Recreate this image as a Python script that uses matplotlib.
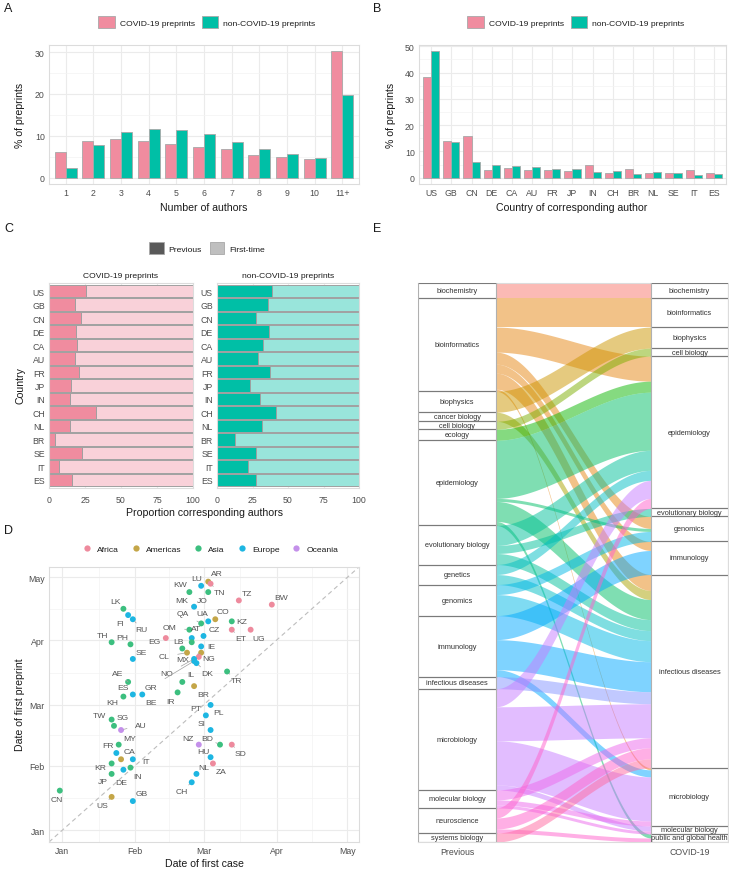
import matplotlib
matplotlib.use("Agg")
import matplotlib.pyplot as plt
import matplotlib.dates as mdates
import numpy as np
from datetime import datetime
from matplotlib.patches import Patch, Rectangle
from matplotlib.lines import Line2D

plt.rcParams['font.family'] = ['Liberation Sans', 'DejaVu Sans']

W, H = 729, 870

# ---------------- data ----------------
# A: number of authors (% of preprints)
author_bins = ['1', '2', '3', '4', '5', '6', '7', '8', '9', '10', '11+']
authors_covid = [6.1, 8.8, 9.3, 8.8, 8.1, 7.4, 6.8, 5.4, 5.0, 4.4, 30.2]
authors_noncovid = [2.3, 7.7, 11.0, 11.7, 11.5, 10.5, 8.6, 6.8, 5.6, 4.8, 19.7]

# B: country of corresponding author (% of preprints)
countries_b = ['US', 'GB', 'CN', 'DE', 'CA', 'AU', 'FR', 'JP', 'IN', 'CH', 'BR', 'NL', 'SE', 'IT', 'ES']
country_covid = [38.2, 14.0, 15.9, 2.9, 3.8, 2.9, 2.9, 2.5, 4.8, 1.6, 3.3, 1.6, 1.6, 2.8, 1.8]
country_noncovid = [48.1, 13.7, 6.1, 4.8, 4.6, 4.1, 3.4, 3.3, 2.3, 2.5, 1.4, 2.0, 1.9, 1.1, 1.4]

# C: proportion of corresponding authors with previous preprints
countries_c = ['US', 'GB', 'CN', 'DE', 'CA', 'AU', 'FR', 'JP', 'IN', 'CH', 'NL', 'BR', 'SE', 'IT', 'ES']
previous_covid = [26.0, 17.9, 21.9, 18.6, 19.1, 17.9, 20.5, 15.6, 14.4, 32.3, 14.9, 4.2, 22.6, 6.7, 16.3]
previous_noncovid = [38.6, 35.7, 27.6, 36.9, 32.2, 28.7, 37.4, 23.4, 30.4, 41.4, 31.8, 12.4, 27.3, 21.7, 27.6]

# D: date of first case vs date of first preprint
d_codes = ['CN', 'US', 'GB', 'KR', 'JP', 'DE', 'IN', 'IT', 'CA', 'FR', 'MY', 'AU', 'SG', 'TW', 'KH',
           'ES', 'BE', 'AE', 'SE', 'TH', 'PH', 'LK', 'FI', 'RU', 'EG', 'OM', 'KW', 'LU', 'AR', 'TN',
           'JO', 'MK', 'TZ', 'BW', 'QA', 'UA', 'CO', 'KZ', 'ET', 'UG', 'AT', 'CZ', 'LB', 'IQ', 'IE',
           'CL', 'MX', 'NG', 'NO', 'GR', 'DK', 'TR', 'IL', 'BR', 'IR', 'PL', 'PT', 'SI', 'NZ', 'BD',
           'SD', 'HU', 'ZA', 'NL', 'CH']
d_continent = ['Asia', 'Americas', 'Europe', 'Asia', 'Asia', 'Europe', 'Asia', 'Europe', 'Americas', 'Europe',
               'Asia', 'Oceania', 'Asia', 'Asia', 'Asia', 'Europe', 'Europe', 'Asia', 'Europe', 'Asia',
               'Asia', 'Asia', 'Europe', 'Europe', 'Africa', 'Asia', 'Asia', 'Europe', 'Americas', 'Africa',
               'Asia', 'Europe', 'Africa', 'Africa', 'Asia', 'Europe', 'Americas', 'Asia', 'Africa', 'Africa',
               'Europe', 'Europe', 'Asia', 'Asia', 'Europe', 'Americas', 'Americas', 'Africa', 'Europe', 'Europe',
               'Europe', 'Asia', 'Asia', 'Americas', 'Asia', 'Europe', 'Europe', 'Europe', 'Oceania', 'Asia',
               'Africa', 'Europe', 'Africa', 'Europe', 'Europe']
d_first_case = ['2019-12-31', '2020-01-22', '2020-01-31', '2020-01-22', '2020-01-22', '2020-01-27', '2020-01-30',
                '2020-01-31', '2020-01-26', '2020-01-24', '2020-01-25', '2020-01-26', '2020-01-23', '2020-01-22',
                '2020-01-27', '2020-01-31', '2020-02-04', '2020-01-29', '2020-01-31', '2020-01-22', '2020-01-30',
                '2020-01-27', '2020-01-29', '2020-01-31', '2020-02-14', '2020-02-24', '2020-02-24', '2020-02-29',
                '2020-03-03', '2020-03-04', '2020-03-03', '2020-02-26', '2020-03-16', '2020-03-30', '2020-02-29',
                '2020-03-03', '2020-03-06', '2020-03-13', '2020-03-13', '2020-03-21', '2020-02-25', '2020-03-01',
                '2020-02-21', '2020-02-25', '2020-02-29', '2020-02-23', '2020-02-29', '2020-02-28', '2020-02-26',
                '2020-02-26', '2020-02-27', '2020-03-11', '2020-02-21', '2020-02-26', '2020-02-19', '2020-03-04',
                '2020-03-02', '2020-03-04', '2020-02-28', '2020-03-08', '2020-03-13', '2020-03-04', '2020-03-05',
                '2020-02-27', '2020-02-25']
d_first_preprint = ['2020-01-20', '2020-01-17', '2020-01-15', '2020-02-02', '2020-01-28', '2020-01-30', '2020-01-31',
                    '2020-02-04', '2020-02-04', '2020-02-07', '2020-02-11', '2020-02-18', '2020-02-20', '2020-02-23',
                    '2020-03-05', '2020-03-06', '2020-03-06', '2020-03-12', '2020-03-23', '2020-03-31', '2020-03-30',
                    '2020-04-16', '2020-04-13', '2020-04-11', '2020-04-02', '2020-04-06', '2020-04-24', '2020-04-27',
                    '2020-04-29', '2020-04-28', '2020-04-24', '2020-04-17', '2020-04-20', '2020-04-18', '2020-04-09',
                    '2020-04-10', '2020-04-11', '2020-04-10', '2020-04-06', '2020-04-06', '2020-04-02', '2020-04-03',
                    '2020-03-28', '2020-03-31', '2020-03-29', '2020-03-26', '2020-03-26', '2020-03-24', '2020-03-23',
                    '2020-03-22', '2020-03-21', '2020-03-17', '2020-03-12', '2020-03-10', '2020-03-07', '2020-03-01',
                    '2020-02-25', '2020-02-18', '2020-02-11', '2020-02-11', '2020-02-11', '2020-02-05', '2020-02-02',
                    '2020-01-28', '2020-01-24']

# E: alluvial of previous category -> COVID-19 category
prev_cats = ['biochemistry', 'bioinformatics', 'biophysics', 'cancer biology', 'cell biology', 'ecology',
             'epidemiology', 'evolutionary biology', 'genetics', 'genomics', 'immunology',
             'infectious diseases', 'microbiology', 'molecular biology', 'neuroscience', 'systems biology']
covid_cats = ['biochemistry', 'bioinformatics', 'biophysics', 'cell biology', 'epidemiology',
              'evolutionary biology', 'genomics', 'immunology', 'infectious diseases', 'microbiology',
              'molecular biology', 'public and global health']
flow_from = ['biochemistry', 'bioinformatics', 'bioinformatics', 'bioinformatics', 'bioinformatics',
             'bioinformatics', 'bioinformatics', 'biophysics', 'cancer biology', 'cell biology', 'ecology',
             'epidemiology', 'epidemiology', 'epidemiology', 'epidemiology', 'evolutionary biology',
             'evolutionary biology', 'evolutionary biology', 'genetics', 'genetics', 'genomics', 'genomics',
             'immunology', 'immunology', 'immunology', 'infectious diseases', 'microbiology', 'microbiology',
             'microbiology', 'microbiology', 'molecular biology', 'molecular biology', 'molecular biology',
             'neuroscience', 'neuroscience', 'neuroscience', 'systems biology']
flow_to = ['biochemistry', 'bioinformatics', 'epidemiology', 'genomics', 'immunology', 'infectious diseases',
           'microbiology', 'biophysics', 'infectious diseases', 'cell biology', 'epidemiology', 'epidemiology',
           'genomics', 'infectious diseases', 'public and global health', 'epidemiology', 'evolutionary biology',
           'infectious diseases', 'epidemiology', 'infectious diseases', 'genomics', 'infectious diseases',
           'immunology', 'infectious diseases', 'microbiology', 'infectious diseases', 'epidemiology',
           'infectious diseases', 'microbiology', 'molecular biology', 'infectious diseases', 'microbiology',
           'molecular biology', 'epidemiology', 'infectious diseases', 'public and global health',
           'infectious diseases']
flow_n = [15, 29, 25, 12, 9, 16, 2, 21, 9, 8, 11, 58, 3, 20, 4, 20, 8, 11, 10, 10, 10, 21,
          24, 30, 7, 12, 18, 34, 44, 5, 10, 5, 3, 10, 11, 4, 9]

# ---------------- styling helpers ----------------
PINK = '#F08C9F'
TEAL = '#00BFA6'
PINK_LIGHT = '#F9D1D9'
TEAL_LIGHT = '#99E5DB'
GRID = '#EBEBEB'
TXT = '#4D4D4D'
continent_colors = {'Africa': '#EE8A9D', 'Americas': '#C4A648', 'Asia': '#3CBF7F',
                    'Europe': '#1DB6E2', 'Oceania': '#C490EA'}

fig = plt.figure(figsize=(W / 100, H / 100), dpi=100)


def px_axes(l, t, r, b):
    return fig.add_axes([l / W, 1 - b / H, (r - l) / W, (b - t) / H])


def fx(x):
    return x / W


def fy(y):
    return 1 - y / H


def style(ax):
    for s in ax.spines.values():
        s.set_color('#DCDCDC')
        s.set_linewidth(0.8)
    ax.tick_params(length=0, labelsize=6.3, labelcolor=TXT, pad=3)
    ax.set_axisbelow(True)


def hcl_hex(h, c=100, l=65):
    h = np.radians(h)
    u, v = c * np.cos(h), c * np.sin(h)
    Xn, Yn, Zn = 95.047, 100.0, 108.883
    Y = Yn * ((l + 16) / 116) ** 3
    den = Xn + 15 * Yn + 3 * Zn
    up = u / (13 * l) + 4 * Xn / den
    vp = v / (13 * l) + 9 * Yn / den
    X = Y * 9 * up / (4 * vp)
    Z = Y * (12 - 3 * up - 20 * vp) / (4 * vp)
    X, Y, Z = X / 100, Y / 100, Z / 100
    rgb = np.array([3.2404542 * X - 1.5371385 * Y - 0.4985314 * Z,
                    -0.9692660 * X + 1.8760108 * Y + 0.0415560 * Z,
                    0.0556434 * X - 0.2040259 * Y + 1.0572252 * Z])
    rgb = np.where(rgb <= 0.0031308, 12.92 * rgb, 1.055 * np.abs(rgb) ** (1 / 2.4) - 0.055)
    return tuple(np.clip(rgb, 0, 1))


AXT = 7.6  # axis title size

# ---------------- panel A ----------------
axA = px_axes(49, 46, 359, 185)
style(axA)
xa = np.arange(len(author_bins))
axA.bar(xa - 0.2, authors_covid, width=0.4, color=PINK, edgecolor='#A8A8A8', lw=0.6)
axA.bar(xa + 0.2, authors_noncovid, width=0.4, color=TEAL, edgecolor='#A8A8A8', lw=0.6)
axA.set_xlim(-0.6, len(author_bins) - 0.4)
axA.set_ylim(-1.51, 31.71)
axA.set_xticks(xa)
axA.set_xticklabels(author_bins)
axA.set_yticks([0, 10, 20, 30])
axA.set_yticks([5, 15, 25], minor=True)
axA.tick_params(which='minor', length=0)
axA.grid(True, which='major', color=GRID, lw=0.8)
axA.grid(True, which='minor', axis='y', color='#F3F3F3', lw=0.5)
fig.text(fx(204), fy(208), 'Number of authors', ha='center', va='center', fontsize=AXT, color='#1A1A1A')
fig.text(fx(20), fy(115), '% of preprints', ha='center', va='center', rotation=90, fontsize=AXT, color='#1A1A1A')

leg_handles = [Patch(facecolor=PINK, edgecolor='#A8A8A8', lw=0.6),
               Patch(facecolor=TEAL, edgecolor='#A8A8A8', lw=0.6)]
leg_labels = ['COVID-19 preprints', 'non-COVID-19 preprints']
fig.legend(leg_handles, leg_labels, loc='center', bbox_to_anchor=(fx(207), fy(23)), ncol=2,
           frameon=False, fontsize=6.1, handlelength=1.9, handleheight=1.9, columnspacing=0.9,
           handletextpad=0.6, labelcolor='#1A1A1A')

# ---------------- panel B ----------------
axB = px_axes(419, 46, 726, 185)
style(axB)
xb = np.arange(len(countries_b))
axB.bar(xb - 0.2, country_covid, width=0.4, color=PINK, edgecolor='#A8A8A8', lw=0.6)
axB.bar(xb + 0.2, country_noncovid, width=0.4, color=TEAL, edgecolor='#A8A8A8', lw=0.6)
axB.set_xlim(-0.6, len(countries_b) - 0.4)
axB.set_ylim(-2.4, 50.5)
axB.set_xticks(xb)
axB.set_xticklabels(countries_b)
axB.set_yticks(np.arange(0, 51, 10))
axB.set_yticks(np.arange(5, 50, 10), minor=True)
axB.tick_params(which='minor', length=0)
axB.grid(True, which='major', color=GRID, lw=0.8)
axB.grid(True, which='minor', axis='y', color='#F3F3F3', lw=0.5)
fig.text(fx(572), fy(208), 'Country of corresponding author', ha='center', va='center', fontsize=AXT,
         color='#1A1A1A')
fig.text(fx(391), fy(115), '% of preprints', ha='center', va='center', rotation=90, fontsize=AXT,
         color='#1A1A1A')
fig.legend(leg_handles, leg_labels, loc='center', bbox_to_anchor=(fx(576), fy(23)), ncol=2,
           frameon=False, fontsize=6.1, handlelength=1.9, handleheight=1.9, columnspacing=0.9,
           handletextpad=0.6, labelcolor='#1A1A1A')

# ---------------- panel C ----------------
yc = np.arange(len(countries_c))
for (l, r), vals, dark, light, title in [((49, 193), previous_covid, PINK, PINK_LIGHT, 'COVID-19 preprints'),
                                         ((217, 359), previous_noncovid, TEAL, TEAL_LIGHT,
                                          'non-COVID-19 preprints')]:
    ax = px_axes(l, 284, r, 489)
    style(ax)
    vals = np.array(vals)
    ax.barh(yc, 100 - vals, left=vals, height=0.92, color=light, edgecolor='#A0A0A0', lw=0.7)
    ax.barh(yc, vals, height=0.92, color=dark, edgecolor='#A0A0A0', lw=0.7)
    ax.set_xlim(0, 100)
    ax.set_ylim(len(countries_c) - 0.4, -0.6)
    ax.set_yticks(yc)
    ax.set_yticklabels(countries_c)
    ax.set_xticks([0, 25, 50, 75, 100])
    ax.tick_params(axis='x', pad=5)
    ax.grid(True, axis='x', color=GRID, lw=0.8)
    ax.set_title(title, fontsize=6.1, color='#1A1A1A', pad=4)
fig.text(fx(204), fy(513), 'Proportion corresponding authors', ha='center', va='center', fontsize=AXT,
         color='#1A1A1A')
fig.text(fx(20), fy(386), 'Country', ha='center', va='center', rotation=90, fontsize=AXT, color='#1A1A1A')
fig.legend([Patch(facecolor='#595959', edgecolor='#A8A8A8', lw=0.6),
            Patch(facecolor='#BFBFBF', edgecolor='#A8A8A8', lw=0.6)],
           ['Previous', 'First-time'], loc='center', bbox_to_anchor=(fx(207), fy(249)), ncol=2,
           frameon=False, fontsize=6.1, handlelength=1.7, handleheight=1.7, columnspacing=0.9,
           handletextpad=0.6, labelcolor='#1A1A1A')

# ---------------- panel D ----------------
axD = px_axes(49, 568, 359, 843)
style(axD)
d_lo = mdates.date2num(datetime(2019, 12, 26, 10))
d_hi = mdates.date2num(datetime(2020, 5, 6))
axD.set_xlim(d_lo, d_hi)
axD.set_ylim(d_lo, d_hi)
months = [mdates.date2num(datetime(2020, m, 1)) for m in range(1, 6)]
mids = [(a + b) / 2 for a, b in zip(months[:-1], months[1:])]
axD.set_xticks(months)
axD.set_yticks(months)
axD.set_xticklabels(['Jan', 'Feb', 'Mar', 'Apr', 'May'])
axD.set_yticklabels(['Jan', 'Feb', 'Mar', 'Apr', 'May'])
axD.set_xticks(mids, minor=True)
axD.set_yticks(mids, minor=True)
axD.tick_params(which='minor', length=0)
axD.grid(True, which='major', color=GRID, lw=0.8)
axD.grid(True, which='minor', color='#F3F3F3', lw=0.5)
axD.plot([d_lo, d_hi], [d_lo, d_hi], ls=(0, (4, 3)), color='#BDBDBD', lw=0.8, zorder=1)

xcase = mdates.date2num([datetime.strptime(s, '%Y-%m-%d') for s in d_first_case])
ypre = mdates.date2num([datetime.strptime(s, '%Y-%m-%d') for s in d_first_preprint])
axD.scatter(xcase, ypre, s=18, c=[continent_colors[c] for c in d_continent], lw=0, zorder=3)

# label offsets in pixels (right, up); unlisted codes are unlabeled
label_offset = {
    'CN': (-3, -9), 'US': (-9, -9), 'GB': (9, 8), 'KR': (-11, -4), 'JP': (-9, -8), 'DE': (-2, -13),
    'IN': (7, -9), 'IT': (13, -2), 'CA': (8, 8), 'FR': (-8, 8), 'MY': (11, 6), 'AU': (20, 5),
    'SG': (9, 8), 'TW': (-12, 4), 'KH': (-11, -6), 'ES': (-10, 7), 'BE': (9, -8), 'AE': (-10, 8),
    'SE': (8, 6), 'TH': (-9, 7), 'PH': (-8, 7), 'LK': (-8, 7), 'FI': (-8, -8), 'RU': (9, -10),
    'EG': (-11, -3), 'OM': (-20, 2), 'KW': (-9, 8), 'LU': (-4, 7), 'AR': (9, 8), 'TN': (9, -9),
    'JO': (-6, -8), 'MK': (-12, 6), 'TZ': (8, 7), 'BW': (9, 7), 'QA': (-18, 10), 'UA': (-6, 8),
    'CO': (8, 8), 'KZ': (10, 0), 'ET': (9, -9), 'UG': (8, -9), 'AT': (4, 10), 'CZ': (11, 6),
    'LB': (-4, 7), 'IE': (10, 0), 'CL': (-23, -4), 'MX': (-18, -7), 'NG': (10, -2), 'NO': (-27, -15),
    'GR': (-43, -26), 'DK': (11, -10), 'TR': (9, -9), 'IL': (9, 7), 'BR': (9, -8), 'IR': (-7, -9),
    'PL': (8, -8), 'PT': (-10, 7), 'SI': (-9, 7), 'NZ': (-11, 6), 'BD': (-13, 6), 'SD': (9, -9),
    'HU': (-7, 6), 'ZA': (8, -8), 'NL': (7, 6), 'CH': (-10, -9),
}
for code, xv, yv in zip(d_codes, xcase, ypre):
    if code not in label_offset:
        continue
    dx, dy = label_offset[code]
    far = abs(dx) + abs(dy) > 17
    axD.annotate(code, (xv, yv), xytext=(dx, dy), textcoords='offset pixels', ha='center', va='center',
                 fontsize=6.1, color='#555555', zorder=4,
                 arrowprops=dict(arrowstyle='-', color='#A0A0A0', lw=0.5, shrinkA=4, shrinkB=2) if far else None)
fig.text(fx(204), fy(864), 'Date of first case', ha='center', va='center', fontsize=AXT, color='#1A1A1A')
fig.text(fx(20), fy(705), 'Date of first preprint', ha='center', va='center', rotation=90, fontsize=AXT,
         color='#1A1A1A')
fig.legend([Line2D([], [], marker='o', ls='', markersize=4.5, markerfacecolor=continent_colors[k],
                   markeredgewidth=0) for k in continent_colors],
           list(continent_colors.keys()), loc='center', bbox_to_anchor=(fx(210), fy(550)), ncol=5,
           frameon=False, fontsize=6.1, handlelength=1.2, columnspacing=1.4, handletextpad=0.6,
           labelcolor='#1A1A1A')

# ---------------- panel E ----------------
axE = px_axes(418, 284, 728, 843)
for s in axE.spines.values():
    s.set_color('#DCDCDC')
    s.set_linewidth(0.8)
axE.set_xticks([])
axE.set_yticks([])
x0, xa_, xb_, x1 = 0.0, (496 - 418) / 310, (651 - 418) / 310, 1.0

pi = {c: i for i, c in enumerate(prev_cats)}
ci = {c: i for i, c in enumerate(covid_cats)}
left_tot = np.zeros(len(prev_cats))
right_tot = np.zeros(len(covid_cats))
for f, t, n in zip(flow_from, flow_to, flow_n):
    left_tot[pi[f]] += n
    right_tot[ci[t]] += n
left_start = np.concatenate([[0], np.cumsum(left_tot)[:-1]])
right_start = np.concatenate([[0], np.cumsum(right_tot)[:-1]])
total = left_tot.sum()

idx = list(range(len(flow_n)))
left_pos, right_pos = {}, {}
cursor = left_start.copy()
for k in sorted(idx, key=lambda k: (pi[flow_from[k]], ci[flow_to[k]])):
    i = pi[flow_from[k]]
    left_pos[k] = (cursor[i], cursor[i] + flow_n[k])
    cursor[i] += flow_n[k]
cursor = right_start.copy()
for k in sorted(idx, key=lambda k: (ci[flow_to[k]], pi[flow_from[k]])):
    j = ci[flow_to[k]]
    right_pos[k] = (cursor[j], cursor[j] + flow_n[k])
    cursor[j] += flow_n[k]

hues = np.linspace(15, 375, len(prev_cats) + 1)[:-1]
cat_colors = [hcl_hex(h) for h in hues]
tt = np.linspace(0, 1, 80)
ss = tt * tt * (3 - 2 * tt)
xs = xa_ + (xb_ - xa_) * tt
for k in idx:
    (l0, l1), (r0, r1) = left_pos[k], right_pos[k]
    axE.fill_between(xs, l0 + (r0 - l0) * ss, l1 + (r1 - l1) * ss,
                     color=cat_colors[pi[flow_from[k]]], alpha=0.5, lw=0, zorder=2)

for cats, starts, tots, xl, xr in [(prev_cats, left_start, left_tot, x0, xa_),
                                   (covid_cats, right_start, right_tot, xb_, x1)]:
    for c, s0, n in zip(cats, starts, tots):
        axE.add_patch(Rectangle((xl, s0), xr - xl, n, facecolor='white', edgecolor='none', zorder=3))
        axE.plot([xl, xr], [s0, s0], color='#7A7A7A', lw=0.8, zorder=4)
        axE.plot([xl, xr], [s0 + n, s0 + n], color='#7A7A7A', lw=0.8, zorder=4)
        axE.text((xl + xr) / 2, s0 + n / 2, c, ha='center', va='center', fontsize=5.3, color='#333333',
                 zorder=5, clip_on=False)
    for xv in (xl, xr):
        axE.plot([xv, xv], [0, total], color='#B0B0B0', lw=0.8, zorder=4)
axE.set_xlim(0, 1)
axE.set_ylim(total, 0)
fig.text(fx(457), fy(853), 'Previous', ha='center', va='center', fontsize=6.3, color=TXT)
fig.text(fx(690), fy(853), 'COVID-19', ha='center', va='center', fontsize=6.3, color=TXT)

# ---------------- panel letters ----------------
for letter, x, y in [('A', 4, 9), ('B', 373, 9), ('C', 4, 229), ('E', 373, 229), ('D', 4, 531)]:
    fig.text(fx(x), fy(y), letter, ha='left', va='center', fontsize=9, color='#1A1A1A')

fig.savefig('out.png', dpi=100)
